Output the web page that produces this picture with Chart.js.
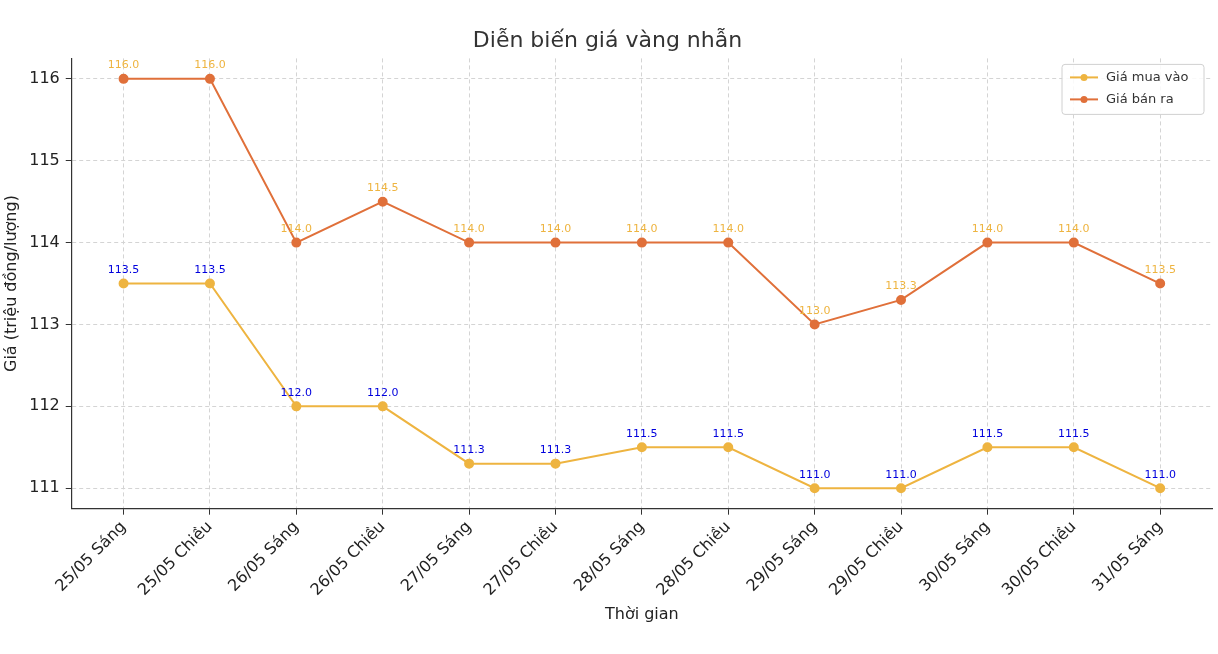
<!DOCTYPE html>
<html>
<head>
<meta charset="utf-8">
<script src="https://cdn.jsdelivr.net/npm/chart.js@4.4.0/dist/chart.umd.min.js"></script>
<style>
  html, body { margin: 0; padding: 0; background: #fff; }
  #wrap { width: 1218px; height: 654px; }
</style>
</head>
<body>
<div id="wrap"><canvas id="goldChart"></canvas></div>
<script>
// Data
const labels = ['25/05 Sáng', '25/05 Chiều', '26/05 Sáng', '26/05 Chiều', '27/05 Sáng', '27/05 Chiều',
  '28/05 Sáng', '28/05 Chiều', '29/05 Sáng', '29/05 Chiều', '30/05 Sáng', '30/05 Chiều', '31/05 Sáng'];
const buyPrices = [113.5, 113.5, 112.0, 112.0, 111.3, 111.3, 111.5, 111.5, 111.0, 111.0, 111.5, 111.5, 111.0];
const sellPrices = [116.0, 116.0, 114.0, 114.5, 114.0, 114.0, 114.0, 114.0, 113.0, 113.3, 114.0, 114.0, 113.5];

const BUY_COLOR = '#EEB440';
const SELL_COLOR = '#E0703A';
const FONT = 'DejaVu Sans';

// Value labels above points
const valueLabels = {
  id: 'valueLabels',
  afterDatasetsDraw(chart) {
    const ctx = chart.ctx;
    ctx.save();
    ctx.font = `11px "${FONT}"`;
    ctx.textAlign = 'center';
    ctx.textBaseline = 'bottom';
    chart.data.datasets.forEach((ds, i) => {
      ctx.fillStyle = i === 0 ? '#0000dd' : BUY_COLOR;
      chart.getDatasetMeta(i).data.forEach((pt, j) => {
        ctx.fillText(ds.data[j].y.toFixed(1), pt.x, pt.y - 8);
      });
    });
    ctx.restore();
  }
};

// Legend inside the plot, top right
const innerLegend = {
  id: 'innerLegend',
  afterDraw(chart) {
    const ctx = chart.ctx;
    const area = chart.chartArea;
    const w = 142, h = 50;
    const x = area.right - w - 8, y = area.top + 6;
    ctx.save();
    ctx.fillStyle = 'rgba(255,255,255,0.85)';
    ctx.strokeStyle = '#d0d0d0';
    ctx.lineWidth = 1;
    ctx.beginPath();
    ctx.roundRect(x, y, w, h, 3);
    ctx.fill();
    ctx.stroke();
    ctx.font = `13px "${FONT}"`;
    ctx.textBaseline = 'middle';
    chart.data.datasets.forEach((ds, i) => {
      const cy = y + 13 + i * 22;
      ctx.strokeStyle = ds.borderColor;
      ctx.lineWidth = 2;
      ctx.beginPath();
      ctx.moveTo(x + 8, cy);
      ctx.lineTo(x + 36, cy);
      ctx.stroke();
      ctx.fillStyle = ds.borderColor;
      ctx.beginPath();
      ctx.arc(x + 22, cy, 3.5, 0, Math.PI * 2);
      ctx.fill();
      ctx.fillStyle = '#333';
      ctx.fillText(ds.label, x + 44, cy);
    });
    ctx.restore();
  }
};

const toPoints = arr => arr.map((v, i) => ({ x: i, y: v }));

new Chart(document.getElementById('goldChart'), {
  type: 'line',
  data: {
    datasets: [
      {
        label: 'Giá mua vào',
        data: toPoints(buyPrices),
        borderColor: BUY_COLOR,
        backgroundColor: BUY_COLOR,
        borderWidth: 2,
        pointRadius: 4,
        tension: 0
      },
      {
        label: 'Giá bán ra',
        data: toPoints(sellPrices),
        borderColor: SELL_COLOR,
        backgroundColor: SELL_COLOR,
        borderWidth: 2,
        pointRadius: 4,
        tension: 0
      }
    ]
  },
  options: {
    responsive: true,
    maintainAspectRatio: false,
    animation: false,
    layout: { padding: { top: 10, right: 3, left: 0, bottom: 28 } },
    plugins: {
      legend: { display: false },
      tooltip: { enabled: false },
      title: {
        display: true,
        text: 'Diễn biến giá vàng nhẫn',
        color: '#333',
        font: { family: FONT, size: 22, weight: 'normal' },
        padding: { top: 18, bottom: 4 }
      }
    },
    scales: {
      x: {
        type: 'linear',
        min: -0.6,
        max: 12.6,
        afterBuildTicks: axis => { axis.ticks = labels.map((_, i) => ({ value: i })); },
        ticks: {
          callback: v => labels[v],
          color: '#222',
          font: { family: FONT, size: 16 },
          maxRotation: 45,
          minRotation: 45,
          autoSkip: false
        },
        grid: { color: '#d4d4d4', drawTicks: true, tickLength: 6, tickColor: '#333' },
        border: { color: '#333', width: 1.2, dash: [4, 3] },
        title: { display: true, text: 'Thời gian', color: '#222', font: { family: FONT, size: 16 }, padding: 2 }
      },
      y: {
        min: 110.75,
        max: 116.25,
        afterBuildTicks: axis => { axis.ticks = [111, 112, 113, 114, 115, 116].map(v => ({ value: v })); },
        ticks: {
          color: '#222',
          font: { family: FONT, size: 16 },
          padding: 6
        },
        grid: { color: '#d4d4d4', tickLength: 6, tickColor: '#333' },
        border: { color: '#333', width: 1.2, dash: [4, 3] },
        title: { display: true, text: 'Giá (triệu đồng/lượng)', color: '#222', font: { family: FONT, size: 16 }, padding: 2 }
      }
    }
  },
  plugins: [valueLabels, innerLegend]
});
</script>
</body>
</html>
